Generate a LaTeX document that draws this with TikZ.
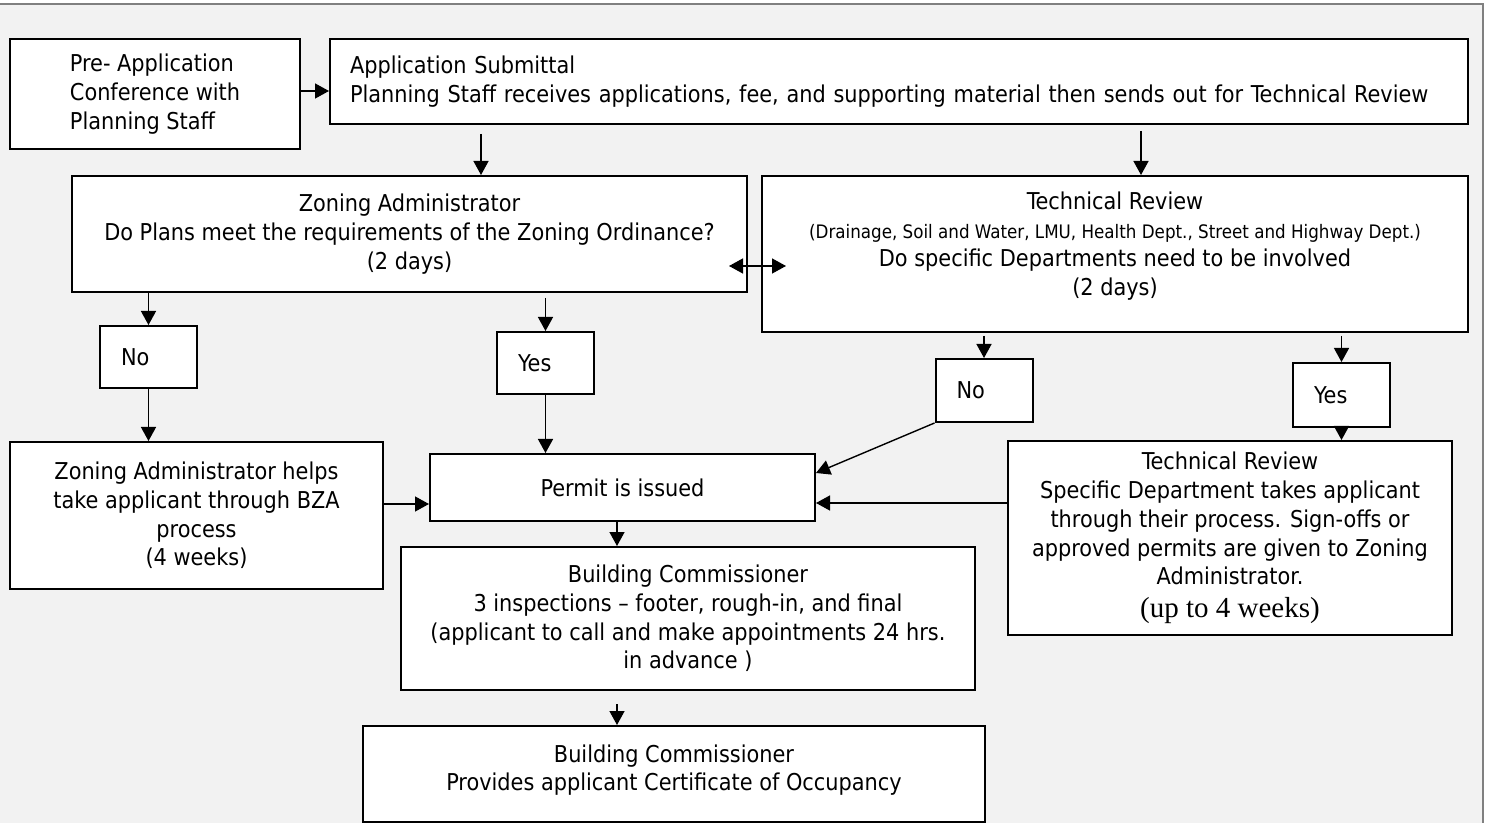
\documentclass[tikz,border=0pt]{standalone}
\usepackage{fontspec}
\setmainfont{DejaVu Sans Condensed}
\newfontfamily\timesfont{Liberation Serif}
\usetikzlibrary{arrows.meta}

\begin{document}
\begin{tikzpicture}[x=0.5pt, y=-0.5pt,
        >={Triangle[length=7pt,width=7.5pt]},
        box/.style={draw, fill=white, line width=1pt, inner sep=0pt, align=center, font=\fontsize{11.6}{14.4}\selectfont},
        answer/.style={box, minimum height=31.5pt, inner xsep=10.5pt, text width=27.5pt, align=left},
        flow/.style={->, line width=0.7pt}]
        \useasboundingbox (0,0) rectangle (1488,823);
        \fill[gray!10] (0,4) rectangle (1483,823);
        \draw[gray, line width=1pt] (0,4) -- (1483,4) -- (1483,823);

        \node (pre) [box, align=left, minimum width=145pt, minimum height=55pt] at (155,94) {Pre- Application\\Conference with\\Planning Staff};
        \node (app) [box, minimum height=42.5pt, inner xsep=10pt, text width=549pt, align=left] at (899,81.5) {Application Submittal\\Planning Staff receives applications, fee, and supporting material then sends out for Technical Review};
        \node (zoning) [box, minimum width=337.5pt, minimum height=58pt] at (409.5,234) {Zoning Administrator\\Do Plans meet the requirements of the Zoning Ordinance?\\(2 days)};
        \node (tech) [box, minimum width=353pt, minimum height=78pt] at (1115,254) {Technical Review\\{\fontsize{9.3}{12}\selectfont (Drainage, Soil and Water, LMU, Health Dept., Street and Highway Dept.)}\\Do specific Departments need to be involved\\(2 days)\\[-4pt]\mbox{}};
        \node (no1) [answer, minimum height=31pt] at (148.5,357) {No};
        \node (yes1) [answer, minimum height=31pt] at (545.5,363) {Yes};
        \node (no2) [answer] at (984,390.5) {No};
        \node (yes2) [answer, minimum height=32pt] at (1341.5,395) {Yes};
        \node (helps) [box, minimum width=186.5pt, minimum height=73.5pt] at (196.5,515.5) {Zoning Administrator helps\\take applicant through BZA\\process\\(4 weeks)};
        \node (permit) [box, minimum width=192.5pt, minimum height=33.5pt] at (622.5,487.5) {Permit is issued};
        \node (bcomm) [box, minimum width=287pt, minimum height=71.5pt] at (688,618.5) {Building Commissioner\\ 3 inspections – footer, rough-in, and final\\(applicant to call and make appointments 24 hrs.\\in advance )};
        \node (tr2) [box, minimum width=222pt, minimum height=97pt] at (1230,538) {Technical Review\\Specific Department takes applicant\\through their process. Sign-offs or\\approved permits are given to Zoning\\Administrator.\\[2pt]{\timesfont\fontsize{14.5}{16}\selectfont (up to 4 weeks)}};
        \node (final) [box, minimum width=311pt, minimum height=48pt] at (674,774) {Building Commissioner\\Provides applicant Certificate of Occupancy\\[-8pt]\mbox{}};

        \draw[flow] (pre.east |- 0,91) -- (app.west |- 0,91);
        \draw[flow, shorten <=4.5pt] (app.south -| 481,0) -- (zoning.north -| 481,0);
        \draw[flow, shorten <=3pt] (app.south -| 1141,0) -- (tech.north -| 1141,0);
        \draw[flow, <->, shorten <=-9.5pt, shorten >=-12.5pt] (zoning.east |- 0,266) -- (tech.west |- 0,266);
        \draw[flow] (zoning.south -| no1) -- (no1.north);
        \draw[flow, shorten <=2.5pt] (zoning.south -| yes1) -- (yes1.north);
        \draw[flow] (no1) -- (no1 |- helps.north);
        \draw[flow] (yes1) -- (yes1 |- permit.north);
        \draw[flow] (helps.east |- 0,504) -- (permit.west |- 0,504);
        \draw[flow, shorten <=1.5pt] (tech.south -| no2) -- (no2.north);
        \draw[flow, shorten <=1.5pt] (tech.south -| yes2) -- (yes2.north);
        \draw[flow] (no2.south west) -- (permit.east |- 0,473);
        \draw[flow] (yes2) -- (yes2 |- tr2.north);
        \draw[flow] (tr2.west |- 0,503) -- (permit.east |- 0,503);
        \draw[flow] (permit.south -| 617,0) -- (bcomm.north -| 617,0);
        \draw[flow, shorten <=6.5pt] (bcomm.south -| 617,0) -- (final.north -| 617,0);
\end{tikzpicture}
\end{document}
